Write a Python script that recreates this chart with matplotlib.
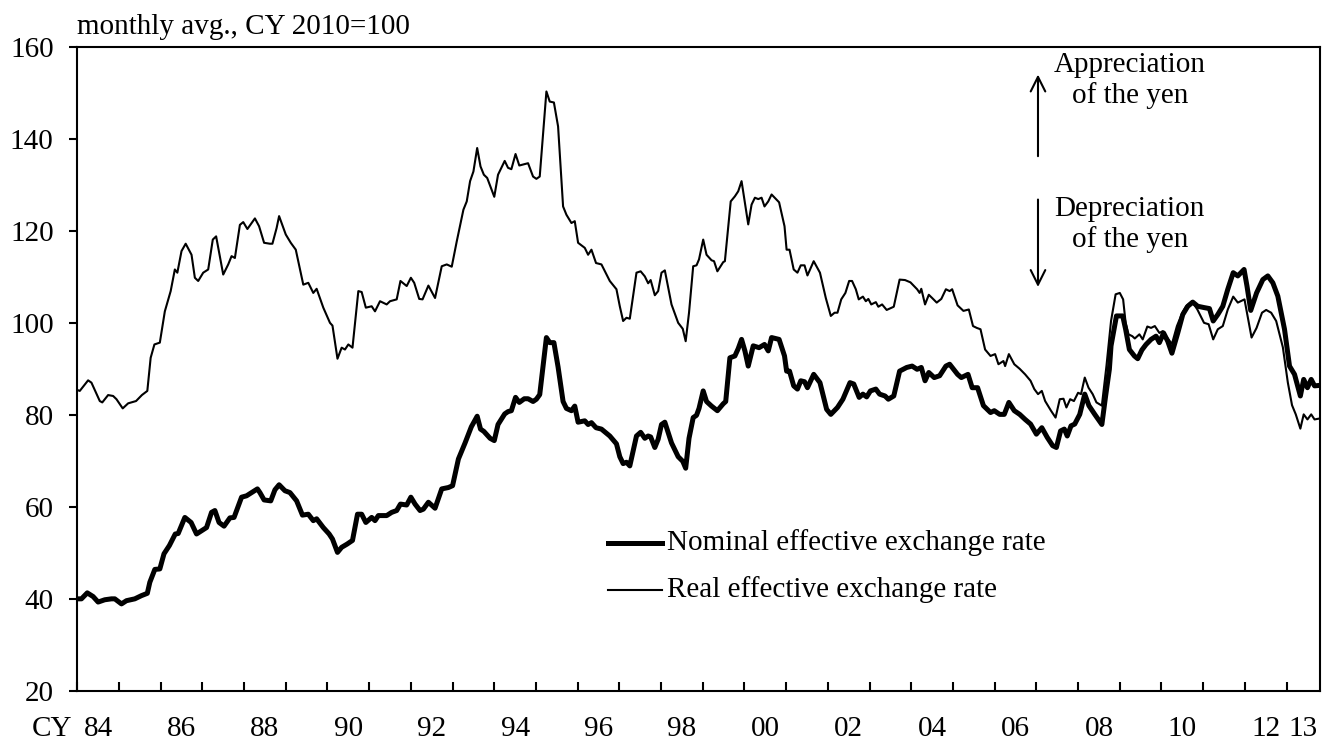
import matplotlib
matplotlib.use("Agg")
import matplotlib.pyplot as plt

# effective exchange rates of the yen, monthly avg., CY 2010 = 100
# (time in decimal years)
real_t = [1984.00, 1984.06, 1984.26, 1984.34, 1984.54, 1984.60, 1984.74, 1984.86, 1984.94,
          1985.09, 1985.22, 1985.41, 1985.55, 1985.68, 1985.76, 1985.85, 1985.98,
          1986.10, 1986.24, 1986.34, 1986.40, 1986.50, 1986.60, 1986.74, 1986.82, 1986.90,
          1987.02, 1987.14, 1987.25, 1987.33, 1987.50, 1987.62, 1987.70, 1987.78, 1987.90, 1987.98,
          1988.08, 1988.26, 1988.36, 1988.48, 1988.62, 1988.68, 1988.78, 1988.84,
          1989.00, 1989.12, 1989.24, 1989.42, 1989.54, 1989.66, 1989.74, 1989.90,
          1990.06, 1990.12, 1990.24, 1990.34, 1990.42, 1990.50, 1990.60, 1990.74, 1990.82, 1990.92,
          1991.06, 1991.14, 1991.26, 1991.42, 1991.50, 1991.66, 1991.75, 1991.90,
          1992.00, 1992.08, 1992.20, 1992.28, 1992.42, 1992.58, 1992.74, 1992.86, 1992.98,
          1993.10, 1993.26, 1993.34, 1993.42, 1993.50, 1993.59, 1993.67, 1993.75, 1993.83,
          1994.00, 1994.09, 1994.25, 1994.33, 1994.41, 1994.51, 1994.60, 1994.81, 1994.93,
          1995.01, 1995.09, 1995.25, 1995.33, 1995.43, 1995.53, 1995.65, 1995.73, 1995.85, 1995.93,
          1996.01, 1996.17, 1996.25, 1996.33, 1996.44, 1996.57, 1996.77, 1996.93,
          1997.01, 1997.09, 1997.17, 1997.25, 1997.41, 1997.51, 1997.61, 1997.69, 1997.75, 1997.85, 1997.93,
          1998.01, 1998.09, 1998.25, 1998.41, 1998.52, 1998.59, 1998.67, 1998.77, 1998.85, 1998.91,
          1999.01, 1999.09, 1999.21, 1999.27, 1999.35, 1999.49, 1999.53, 1999.67, 1999.77, 1999.85, 1999.93,
          2000.01, 2000.09, 2000.17, 2000.25, 2000.33, 2000.41, 2000.48, 2000.57, 2000.65, 2000.83, 2000.96,
          2001.01, 2001.08, 2001.18, 2001.27, 2001.35, 2001.44, 2001.51, 2001.66, 2001.81, 2001.95,
          2002.07, 2002.16, 2002.23, 2002.32, 2002.42, 2002.51, 2002.58, 2002.67, 2002.74, 2002.84, 2002.91, 2002.97,
          2003.04, 2003.15, 2003.21, 2003.30, 2003.41, 2003.58, 2003.72, 2003.85, 2003.98,
          2004.14, 2004.20, 2004.24, 2004.33, 2004.42, 2004.50, 2004.61, 2004.72, 2004.83, 2004.92, 2004.98,
          2005.11, 2005.25, 2005.38, 2005.48, 2005.57, 2005.66, 2005.77, 2005.90,
          2006.01, 2006.09, 2006.21, 2006.25, 2006.34, 2006.47, 2006.60, 2006.73, 2006.86, 2006.95,
          2007.04, 2007.13, 2007.21, 2007.35, 2007.46, 2007.56, 2007.65, 2007.72, 2007.81, 2007.90,
          2008.00, 2008.07, 2008.16, 2008.25, 2008.35, 2008.44, 2008.57, 2008.68, 2008.79, 2008.90,
          2009.00, 2009.08, 2009.14, 2009.21, 2009.30, 2009.36, 2009.47, 2009.55, 2009.66, 2009.75, 2009.84, 2009.95,
          2010.03, 2010.11, 2010.25, 2010.37, 2010.50, 2010.59, 2010.73, 2010.86,
          2011.02, 2011.13, 2011.24, 2011.35, 2011.47, 2011.59, 2011.72, 2011.83, 2011.99,
          2012.05, 2012.16, 2012.28, 2012.41, 2012.51, 2012.63, 2012.75, 2012.91,
          2013.03, 2013.13, 2013.22, 2013.33, 2013.41, 2013.50, 2013.59, 2013.67, 2013.79]
real_v = [85.5, 85.3, 87.6, 87.1, 83.1, 82.8, 84.4, 84.2, 83.5,
          81.5, 82.6, 83.1, 84.4, 85.3, 92.5, 95.4, 95.8,
          102.6, 107.0, 111.7, 111.0, 115.7, 117.3, 114.9, 109.9, 109.2,
          111.0, 111.7, 118.2, 118.9, 110.6, 112.8, 114.6, 114.2, 121.4, 122.0,
          120.5, 122.8, 121.1, 117.5, 117.3, 117.3, 120.7, 123.3,
          119.3, 117.5, 116.0, 108.4, 108.8, 106.6, 107.5, 103.4,
          100.1, 99.5, 92.3, 94.7, 94.3, 95.4, 94.7, 107.0, 106.8, 103.4,
          103.7, 102.6, 104.8, 104.1, 104.8, 105.2, 109.2, 108.1,
          109.9, 108.8, 105.3, 105.2, 108.2, 105.5, 112.4, 112.8, 112.3,
          117.8, 124.7, 126.5, 130.9, 133.0, 138.1, 134.1, 132.3, 131.6,
          127.5, 132.3, 135.3, 133.8, 133.5, 136.8, 134.3, 134.8, 131.9,
          131.4, 131.9, 150.4, 148.2, 148.0, 142.8, 125.4, 123.6, 121.8, 122.2,
          117.5, 116.4, 114.9, 116.0, 113.1, 112.8, 109.2, 107.4,
          103.7, 100.5, 101.2, 101.0, 111.0, 111.3, 110.2, 108.7, 109.4, 106.1, 107.0,
          111.0, 111.5, 104.1, 100.1, 98.8, 96.1, 102.3, 112.4, 112.6, 113.9,
          118.2, 114.9, 113.7, 113.5, 111.3, 113.3, 113.5, 126.5, 127.6, 128.7, 130.9,
          126.2, 121.5, 125.8, 127.3, 127.0, 127.3, 125.4, 126.5, 128.0, 126.3, 121.1,
          116.0, 116.0, 111.7, 111.0, 112.6, 112.6, 110.4, 113.5, 111.0, 105.5,
          101.6, 102.3, 102.3, 105.2, 106.6, 109.2, 109.2, 107.4, 105.2, 105.8, 104.8, 105.3,
          104.1, 104.6, 103.6, 104.1, 102.9, 103.6, 109.5, 109.4, 108.9,
          107.4, 106.6, 107.5, 104.1, 106.2, 105.5, 104.5, 105.3, 107.4, 107.0, 107.4,
          103.9, 102.7, 103.0, 99.4, 99.0, 98.7, 94.3, 92.9,
          93.3, 91.1, 91.8, 90.7, 93.3, 91.1, 90.1, 88.9, 87.5, 85.7,
          84.6, 85.3, 83.1, 81.0, 79.5, 83.5, 83.6, 81.7, 83.5, 83.1,
          84.9, 84.6, 88.2, 86.0, 84.6, 82.8, 82.1, 90.7, 100.5, 106.3,
          106.6, 105.2, 100.1, 97.6, 97.2, 96.7, 97.6, 96.5, 99.3, 99.0, 99.4, 97.9,
          98.3, 97.2, 95.5, 99.4, 102.3, 103.7, 104.8, 103.0,
          100.1, 99.8, 96.5, 98.7, 99.4, 103.0, 105.8, 104.5, 105.2,
          102.3, 96.9, 99.0, 102.3, 102.9, 102.3, 100.5, 94.8,
          87.1, 82.2, 80.2, 77.1, 80.2, 79.1, 80.2, 79.1, 79.3]

nom_t = [1984.00, 1984.10, 1984.24, 1984.38, 1984.50, 1984.66, 1984.82, 1984.90,
         1985.06, 1985.18, 1985.38, 1985.54, 1985.68, 1985.74, 1985.86, 1985.98,
         1986.08, 1986.21, 1986.35, 1986.42, 1986.58, 1986.73, 1986.86, 1986.98,
         1987.10, 1987.22, 1987.30, 1987.40, 1987.52, 1987.66, 1987.76, 1987.94,
         1988.06, 1988.18, 1988.32, 1988.38, 1988.48, 1988.64, 1988.74, 1988.84, 1988.98,
         1989.10, 1989.26, 1989.40, 1989.54, 1989.66, 1989.74, 1989.90,
         1990.04, 1990.12, 1990.24, 1990.34, 1990.47, 1990.60, 1990.72, 1990.82, 1990.92,
         1991.06, 1991.14, 1991.22, 1991.42, 1991.54, 1991.66, 1991.75, 1991.90,
         1992.00, 1992.10, 1992.22, 1992.30, 1992.42, 1992.58, 1992.74, 1992.90,
         1993.00, 1993.14, 1993.30, 1993.45, 1993.59, 1993.67, 1993.75, 1993.90,
         1994.00, 1994.09, 1994.25, 1994.33, 1994.41, 1994.51, 1994.60, 1994.72, 1994.81, 1994.93,
         1995.01, 1995.09, 1995.25, 1995.33, 1995.43, 1995.53, 1995.65, 1995.73, 1995.85, 1995.93,
         1996.01, 1996.17, 1996.25, 1996.33, 1996.44, 1996.57, 1996.77, 1996.93,
         1997.01, 1997.09, 1997.17, 1997.25, 1997.41, 1997.51, 1997.61, 1997.69, 1997.75, 1997.85, 1997.93,
         1998.01, 1998.09, 1998.25, 1998.41, 1998.52, 1998.59, 1998.67, 1998.77, 1998.85, 1998.91,
         1999.01, 1999.09, 1999.21, 1999.35, 1999.49, 1999.55, 1999.65, 1999.77, 1999.85, 1999.93,
         2000.01, 2000.09, 2000.21, 2000.35, 2000.48, 2000.57, 2000.65, 2000.83, 2000.96,
         2001.01, 2001.08, 2001.18, 2001.27, 2001.35, 2001.44, 2001.51, 2001.66, 2001.81, 2001.97,
         2002.07, 2002.23, 2002.36, 2002.53, 2002.62, 2002.75, 2002.84, 2002.93,
         2003.02, 2003.15, 2003.24, 2003.37, 2003.45, 2003.58, 2003.72, 2003.89,
         2004.02, 2004.14, 2004.24, 2004.33, 2004.42, 2004.55, 2004.68, 2004.83, 2004.92, 2004.98,
         2005.11, 2005.20, 2005.36, 2005.46, 2005.59, 2005.73, 2005.90, 2005.99,
         2006.12, 2006.23, 2006.34, 2006.47, 2006.60, 2006.73, 2006.86,
         2007.00, 2007.13, 2007.26, 2007.39, 2007.48, 2007.58, 2007.67, 2007.74, 2007.83, 2007.92,
         2008.04, 2008.16, 2008.26, 2008.40, 2008.57, 2008.66, 2008.75, 2008.79, 2008.92,
         2009.07, 2009.14, 2009.23, 2009.35, 2009.43, 2009.53, 2009.63, 2009.75, 2009.87, 2009.95,
         2010.05, 2010.15, 2010.25, 2010.39, 2010.51, 2010.63, 2010.75, 2010.87,
         2011.03, 2011.15, 2011.24, 2011.35, 2011.47, 2011.59, 2011.72, 2011.83, 2011.98,
         2012.05, 2012.14, 2012.28, 2012.43, 2012.55, 2012.67, 2012.79, 2012.95,
         2013.07, 2013.19, 2013.33, 2013.41, 2013.50, 2013.59, 2013.67, 2013.79]
nom_v = [40.1, 40.1, 41.4, 40.6, 39.4, 39.9, 40.1, 40.1,
         39.0, 39.7, 40.1, 40.8, 41.3, 43.7, 46.5, 46.6,
         49.9, 51.7, 54.2, 54.3, 57.8, 56.7, 54.2, 54.9,
         55.6, 58.9, 59.3, 56.7, 55.9, 57.7, 57.8, 62.2,
         62.5, 63.2, 64.0, 63.2, 61.6, 61.4, 63.8, 64.9, 63.6,
         63.2, 61.4, 58.3, 58.5, 57.1, 57.5, 55.6,
         54.2, 53.1, 50.2, 51.3, 52.0, 52.8, 58.5, 58.5, 56.7,
         57.8, 57.1, 58.2, 58.2, 58.9, 59.3, 60.7, 60.5,
         62.2, 60.7, 59.3, 59.6, 61.1, 59.8, 64.0, 64.3,
         64.7, 70.5, 74.0, 77.5, 79.8, 77.0, 76.5, 75.0,
         74.5, 78.0, 80.3, 80.8, 81.0, 83.9, 82.8, 83.6, 83.6, 83.0,
         83.5, 84.5, 96.9, 95.8, 95.8, 90.5, 83.0, 81.5, 81.0, 82.0,
         78.5, 78.8, 78.0, 78.4, 77.3, 77.0, 75.5, 73.8,
         71.0, 69.5, 69.8, 69.0, 75.5, 76.3, 75.0, 75.5, 75.3, 73.0, 74.8,
         78.0, 78.5, 74.0, 71.0, 70.0, 68.5, 75.0, 79.5, 80.0, 81.5,
         85.3, 83.0, 82.0, 81.0, 82.5, 83.0, 92.5, 92.9, 94.5, 96.5,
         94.0, 90.7, 95.1, 94.7, 95.4, 94.0, 96.9, 96.5, 92.9,
         89.6, 89.6, 86.4, 85.7, 87.5, 87.3, 86.0, 88.9, 87.1, 81.3,
         80.2, 81.7, 83.5, 87.1, 86.8, 83.9, 84.6, 84.0,
         85.3, 85.7, 84.6, 84.2, 83.5, 84.2, 89.6, 90.4,
         90.7, 90.0, 90.4, 87.5, 89.3, 88.2, 88.6, 90.7, 91.1, 90.4,
         88.9, 88.2, 88.9, 86.0, 86.0, 82.1, 80.6, 81.0,
         80.2, 80.2, 82.8, 81.0, 80.2, 79.1, 78.1,
         75.9, 77.3, 75.2, 73.4, 73.0, 76.6, 77.0, 75.5, 77.7, 78.1,
         80.2, 84.6, 82.1, 80.2, 78.0, 84.2, 90.0, 95.1, 101.6,
         101.6, 98.7, 94.3, 92.9, 92.3, 94.2, 95.4, 96.5, 97.2, 95.8,
         97.9, 96.1, 93.5, 97.9, 101.9, 103.7, 104.6, 103.7,
         103.4, 103.2, 100.5, 101.9, 103.7, 107.4, 111.0, 110.3, 111.7,
         108.1, 102.8, 106.6, 109.5, 110.3, 108.8, 105.9, 98.7,
         90.7, 88.9, 84.2, 87.8, 86.0, 87.8, 86.4, 86.5]

years = list(range(1984, 2014))
label_years = [1984, 1986, 1988, 1990, 1992, 1994, 1996, 1998, 2000,
               2002, 2004, 2006, 2008, 2010, 2012, 2013]
label_text = ["84", "86", "88", "90", "92", "94", "96", "98", "00",
              "02", "04", "06", "08", "10", "12", "13"]

plt.rcParams["font.family"] = ["Liberation Serif", "DejaVu Serif"]
plt.rcParams["font.size"] = 21

fig = plt.figure(figsize=(13.23, 7.40), dpi=100)
ax = fig.add_axes([0.0584, 0.0658, 0.9393, 0.8703])

ax.plot(nom_t, nom_v, color="black", lw=3.6)
ax.plot(real_t, real_v, color="black", lw=1.5)

ax.set_xlim(1984, 2013.8)
ax.set_ylim(20, 160)
ax.set_yticks(range(20, 161, 20))

# year ticks on the boundaries, labels in the middle of each year
label_pad = 18
ax.set_xticks(years)
ax.set_xticklabels([])
ax.set_xticks([y + 0.5 for y in label_years[:-1]] + [2013.4], minor=True)
ax.set_xticklabels(label_text, minor=True)
ax.tick_params(axis="x", which="major", direction="in", length=6.5, width=1.5)
ax.tick_params(axis="x", which="minor", length=0, pad=label_pad)
ax.tick_params(axis="y", direction="out", length=6, width=1.5, pad=11)
for s in ax.spines.values():
    s.set_linewidth(1.5)

# "CY" in front of the first year label, on the same line
ax.annotate("CY", xy=(1983.88, 0), xycoords=ax.get_xaxis_transform(),
            xytext=(0, -label_pad), textcoords="offset points",
            ha="right", va="top", annotation_clip=False)
ax.text(0.0, 1.032, "monthly avg., CY 2010=100", transform=ax.transAxes,
        ha="left", va="center")

# legend drawn by hand
ax.plot([0.427, 0.4706], [0.2303, 0.2303], transform=ax.transAxes, color="black", lw=3.6)
ax.plot([0.427, 0.4706], [0.1573, 0.1573], transform=ax.transAxes, color="black", lw=1.5)
ax.text(0.4744, 0.2303, "Nominal effective exchange rate", transform=ax.transAxes, va="center")
ax.text(0.4744, 0.1573, "Real effective exchange rate", transform=ax.transAxes, va="center")

# appreciation / depreciation arrows
ax.annotate("", xy=(0.7731, 0.962), xytext=(0.7731, 0.8266), xycoords="axes fraction",
            arrowprops=dict(arrowstyle="->,head_length=0.5,head_width=0.25", lw=1.5, color="black"))
ax.annotate("", xy=(0.7731, 0.6235), xytext=(0.7731, 0.7679), xycoords="axes fraction",
            arrowprops=dict(arrowstyle="->,head_length=0.5,head_width=0.25", lw=1.5, color="black"))
ax.text(0.847, 0.9484, "Appreciation\nof the yen", transform=ax.transAxes,
        ha="center", va="center", linespacing=1.15)
ax.text(0.847, 0.7248, "Depreciation\nof the yen", transform=ax.transAxes,
        ha="center", va="center", linespacing=1.15)

fig.savefig("out.png", dpi=100)
